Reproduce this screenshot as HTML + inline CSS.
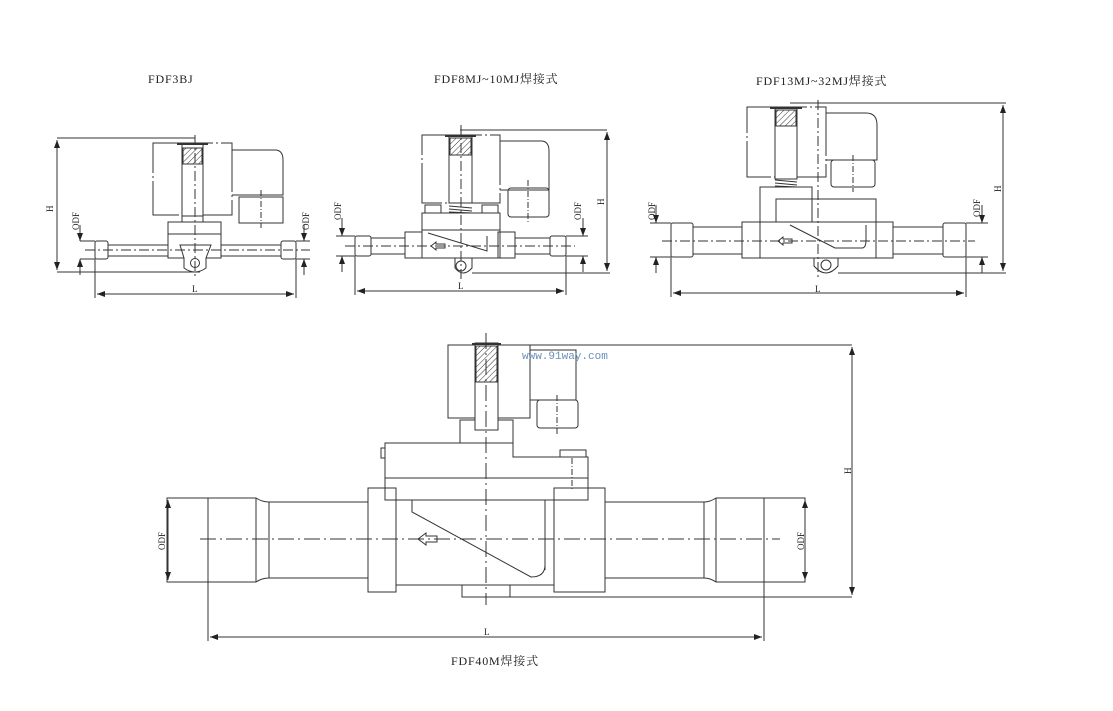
<!DOCTYPE html>
<html><head><meta charset="utf-8"><style>
html,body{margin:0;padding:0;background:#fff;}
svg{display:block;}
text{font-family:"Liberation Serif","Noto Serif CJK SC",serif;fill:#222;}
</style></head><body>
<svg width="1113" height="711" viewBox="0 0 1113 711" xmlns="http://www.w3.org/2000/svg">
<defs>
<pattern id="h" width="4" height="4" patternUnits="userSpaceOnUse" patternTransform="rotate(45)"><line x1="0" y1="0" x2="0" y2="4" stroke="#333" stroke-width="1"/></pattern>
<marker id="a" markerWidth="8" markerHeight="6" refX="8" refY="3" orient="auto-start-reverse" markerUnits="userSpaceOnUse"><path d="M0,0 L8,3 L0,6 Z" fill="#222"/></marker>
</defs>
<g fill="none" stroke="#333" stroke-width="1">

<!-- ========== FDF3BJ ========== -->
<g>
<line x1="57" y1="138" x2="195" y2="138"/>
<line x1="57" y1="272" x2="200" y2="272"/>
<line x1="57" y1="140" x2="57" y2="270" marker-start="url(#a)" marker-end="url(#a)"/>
<rect x="153" y="143" width="79" height="72" fill="#fff" stroke-dasharray="60 3 2 3"/>
<rect x="182" y="143" width="21" height="73" fill="#fff"/>
<rect x="183" y="148" width="19" height="16" fill="url(#h)"/>
<line x1="177" y1="144" x2="208" y2="144" stroke-width="2"/>
<path d="M232,150 H275 Q283,150 283,160 V195 H232"/>
<rect x="239" y="197" width="44" height="26"/>
<line x1="261" y1="190" x2="261" y2="228" stroke-dasharray="6 2 1 2"/>
<rect x="182" y="216" width="21" height="6"/>
<rect x="168" y="222" width="53" height="12"/>
<path d="M168,234 H221 V258 H168 Z"/>
<path d="M180,245 H211 L206,258 V268 Q195,276 184,268 V258 Z" fill="#fff"/>
<circle cx="195" cy="263" r="4.5"/>
<line x1="108" y1="245" x2="168" y2="245"/><line x1="108" y1="256" x2="168" y2="256"/>
<line x1="221" y1="245" x2="281" y2="245"/><line x1="221" y1="256" x2="281" y2="256"/>
<rect x="95" y="241" width="13" height="18" rx="2"/>
<rect x="281" y="241" width="15" height="18" rx="2"/>
<line x1="85" y1="250" x2="310" y2="250" stroke-dasharray="10 3 2 3"/>
<line x1="195" y1="135" x2="195" y2="278" stroke-dasharray="10 3 2 3"/>
<line x1="80" y1="241" x2="95" y2="241"/><line x1="80" y1="259" x2="95" y2="259"/>
<line x1="80" y1="225" x2="80" y2="241" marker-end="url(#a)"/><line x1="80" y1="275" x2="80" y2="259" marker-end="url(#a)"/>
<line x1="296" y1="241" x2="310" y2="241"/><line x1="296" y1="259" x2="310" y2="259"/>
<line x1="304" y1="225" x2="304" y2="241" marker-end="url(#a)"/><line x1="304" y1="275" x2="304" y2="259" marker-end="url(#a)"/>
<line x1="95" y1="259" x2="95" y2="298"/><line x1="296" y1="259" x2="296" y2="298"/>
<line x1="97" y1="294" x2="294" y2="294" marker-start="url(#a)" marker-end="url(#a)"/>
</g>

<!-- ========== FDF8MJ ========== -->
<g>
<line x1="460" y1="130" x2="607" y2="130"/>
<line x1="472" y1="273" x2="610" y2="273"/>
<line x1="607" y1="132" x2="607" y2="271" marker-start="url(#a)" marker-end="url(#a)"/>
<rect x="422" y="135" width="78" height="68" fill="#fff" stroke-dasharray="60 3 2 3"/>
<rect x="449" y="135" width="23" height="68" fill="#fff"/>
<rect x="450" y="138" width="21" height="17" fill="url(#h)"/>
<line x1="445" y1="136" x2="476" y2="136" stroke-width="2"/>
<path d="M500,141 H541 Q549,141 549,151 V190 H500"/>
<rect x="508" y="188" width="41" height="29" rx="3"/>
<line x1="528" y1="180" x2="528" y2="222" stroke-dasharray="6 2 1 2"/>
<rect x="425" y="205" width="16" height="8"/><rect x="482" y="205" width="16" height="8"/>
<path d="M449,206 L472,208 M449,209 L472,211 M449,212 L472,213" />
<rect x="422" y="213" width="78" height="17"/>
<rect x="422" y="230" width="78" height="28"/>
<rect x="405" y="232" width="17" height="26"/><rect x="498" y="232" width="17" height="26"/>
<path d="M428,233 L487,251 V236"/>
<path d="M455,258 V268 Q463,278 472,268 V258"/>
<circle cx="461" cy="266" r="5"/>
<path d="M431,246 l5,-4 v2 h9 v4 h-9 v2 z"/>
<line x1="371" y1="238" x2="405" y2="238"/><line x1="371" y1="254" x2="405" y2="254"/>
<line x1="515" y1="238" x2="550" y2="238"/><line x1="515" y1="254" x2="550" y2="254"/>
<rect x="355" y="236" width="16" height="20" rx="2"/>
<rect x="550" y="236" width="16" height="20" rx="2"/>
<line x1="345" y1="246" x2="575" y2="246" stroke-dasharray="10 3 2 3"/>
<line x1="461" y1="125" x2="461" y2="280" stroke-dasharray="10 3 2 3"/>
<line x1="336" y1="236" x2="355" y2="236"/><line x1="336" y1="256" x2="355" y2="256"/>
<line x1="342" y1="218" x2="342" y2="236" marker-end="url(#a)"/><line x1="342" y1="272" x2="342" y2="256" marker-end="url(#a)"/>
<line x1="566" y1="236" x2="588" y2="236"/><line x1="566" y1="256" x2="588" y2="256"/>
<line x1="583" y1="218" x2="583" y2="236" marker-end="url(#a)"/><line x1="583" y1="272" x2="583" y2="256" marker-end="url(#a)"/>
<line x1="355" y1="256" x2="355" y2="295"/><line x1="566" y1="256" x2="566" y2="295"/>
<line x1="357" y1="291" x2="564" y2="291" marker-start="url(#a)" marker-end="url(#a)"/>
</g>

<!-- ========== FDF13MJ ========== -->
<g>
<line x1="790" y1="103" x2="1006" y2="103"/>
<line x1="838" y1="273" x2="1006" y2="273"/>
<line x1="1003" y1="105" x2="1003" y2="271" marker-start="url(#a)" marker-end="url(#a)"/>
<rect x="747" y="107" width="79" height="70" fill="#fff" stroke-dasharray="60 3 2 3"/>
<rect x="775" y="107" width="22" height="72" fill="#fff"/>
<rect x="776" y="110" width="20" height="16" fill="url(#h)"/>
<line x1="770" y1="108" x2="802" y2="108" stroke-width="2"/>
<path d="M826,113 H866 Q877,113 877,125 V160 H826"/>
<rect x="831" y="160" width="44" height="27" rx="3"/>
<line x1="853" y1="155" x2="853" y2="192" stroke-dasharray="6 2 1 2"/>
<path d="M775,180 L797,182 M775,183 L797,185 M775,186 L797,187"/>
<rect x="760" y="187" width="52" height="35"/>
<rect x="776" y="199" width="100" height="23"/>
<rect x="742" y="222" width="151" height="36"/>
<line x1="760" y1="222" x2="760" y2="258"/><line x1="876" y1="222" x2="876" y2="258"/>
<path d="M790,225 L835,248 H862 Q866,248 866,240 V225"/>
<path d="M814,258 V266 Q826,280 838,266 V258"/>
<circle cx="826" cy="265" r="5"/>
<path d="M778,241 l5,-4 v2 h9 v4 h-9 v2 z"/>
<line x1="693" y1="227" x2="742" y2="227"/><line x1="693" y1="254" x2="742" y2="254"/>
<line x1="893" y1="227" x2="943" y2="227"/><line x1="893" y1="254" x2="943" y2="254"/>
<rect x="671" y="223" width="22" height="34" rx="2"/>
<rect x="943" y="223" width="23" height="34" rx="2"/>
<line x1="662" y1="241" x2="975" y2="241" stroke-dasharray="10 3 2 3"/>
<line x1="818" y1="100" x2="818" y2="280" stroke-dasharray="10 3 2 3"/>
<line x1="650" y1="223" x2="671" y2="223"/><line x1="650" y1="257" x2="671" y2="257"/>
<line x1="656" y1="205" x2="656" y2="223" marker-end="url(#a)"/><line x1="656" y1="273" x2="656" y2="257" marker-end="url(#a)"/>
<line x1="966" y1="223" x2="988" y2="223"/><line x1="966" y1="257" x2="988" y2="257"/>
<line x1="982" y1="205" x2="982" y2="223" marker-end="url(#a)"/><line x1="982" y1="273" x2="982" y2="257" marker-end="url(#a)"/>
<line x1="671" y1="257" x2="671" y2="297"/><line x1="966" y1="257" x2="966" y2="297"/>
<line x1="673" y1="293" x2="964" y2="293" marker-start="url(#a)" marker-end="url(#a)"/>
</g>

<!-- ========== FDF40M ========== -->
<g>
<line x1="500" y1="345" x2="852" y2="345"/>
<line x1="510" y1="597" x2="852" y2="597"/>
<line x1="852" y1="347" x2="852" y2="595" marker-start="url(#a)" marker-end="url(#a)"/>
<rect x="448" y="345" width="82" height="73"/>
<rect x="530" y="350" width="46" height="50"/>
<rect x="537" y="400" width="41" height="28" rx="3"/>
<line x1="557" y1="395" x2="557" y2="435" stroke-dasharray="6 2 1 2"/>
<rect x="460" y="420" width="53" height="23"/>
<rect x="475" y="343" width="23" height="87" fill="#fff"/>
<rect x="476" y="346" width="21" height="36" fill="url(#h)"/>
<line x1="472" y1="344" x2="501" y2="344" stroke-width="2"/>
<path d="M385,443 H513 V457 H588 V500 H385 Z"/>
<line x1="385" y1="478" x2="588" y2="478"/>
<rect x="381" y="448" width="4" height="10"/>
<rect x="560" y="450" width="26" height="7"/>
<line x1="572" y1="458" x2="572" y2="490" stroke-dasharray="6 2 1 2"/>
<rect x="368" y="488" width="28" height="104"/>
<rect x="554" y="488" width="51" height="104"/>
<line x1="396" y1="500" x2="554" y2="500"/><line x1="396" y1="585" x2="554" y2="585"/>
<line x1="545" y1="500" x2="545" y2="570"/>
<path d="M412,500 V512 L531,577 Q545,577 545,565"/>
<rect x="462" y="585" width="48" height="12"/>
<path d="M418,539 l8,-6 v3 h11 v6 h-11 v3 z"/>
<path d="M269,502 H368 M269,578 H368 M605,502 H704 M605,578 H704"/>
<path d="M167,498 H256 Q262,502 269,502 V578 Q262,578 256,582 H167 Z"/>
<line x1="208" y1="498" x2="208" y2="582"/><line x1="256" y1="498" x2="256" y2="582"/>
<path d="M805,498 H716 Q710,502 704,502 V578 Q710,578 716,582 H805 Z"/>
<line x1="764" y1="498" x2="764" y2="582"/><line x1="716" y1="498" x2="716" y2="582"/>
<line x1="200" y1="539" x2="780" y2="539" stroke-dasharray="16 4 2 4"/>
<line x1="486" y1="333" x2="486" y2="605" stroke-dasharray="16 4 2 4"/>
<line x1="168" y1="500" x2="168" y2="580" marker-start="url(#a)" marker-end="url(#a)"/>
<line x1="805" y1="500" x2="805" y2="580" marker-start="url(#a)" marker-end="url(#a)"/>
<line x1="208" y1="582" x2="208" y2="641"/><line x1="764" y1="582" x2="764" y2="641"/>
<line x1="210" y1="637" x2="762" y2="637" marker-start="url(#a)" marker-end="url(#a)"/>
</g>
</g>

<!-- text -->
<g font-size="12" letter-spacing="0.8">
<text x="148" y="83">FDF3BJ</text>
<text x="434" y="83">FDF8MJ~10MJ焊接式</text>
<text x="756" y="85">FDF13MJ~32MJ焊接式</text>
<text x="451" y="665">FDF40M焊接式</text>
</g>
<g font-size="9">
<text transform="translate(53,212) rotate(-90)">H</text>
<text transform="translate(79,230) rotate(-90)">ODF</text>
<text transform="translate(309,230) rotate(-90)">ODF</text>
<text x="192" y="292">L</text>
<text transform="translate(604,205) rotate(-90)">H</text>
<text transform="translate(341,220) rotate(-90)">ODF</text>
<text transform="translate(581,220) rotate(-90)">ODF</text>
<text x="458" y="289">L</text>
<text transform="translate(1001,192) rotate(-90)">H</text>
<text transform="translate(655,220) rotate(-90)">ODF</text>
<text transform="translate(980,217) rotate(-90)">ODF</text>
<text x="815" y="292">L</text>
<text transform="translate(851,474) rotate(-90)">H</text>
<text transform="translate(165,550) rotate(-90)">ODF</text>
<text transform="translate(804,550) rotate(-90)">ODF</text>
<text x="484" y="635">L</text>
</g>
<text x="522" y="359" font-size="11" style="font-family:'Liberation Mono',monospace;fill:#6a8fb8">www.91way.com</text>
</svg>
</body></html>
